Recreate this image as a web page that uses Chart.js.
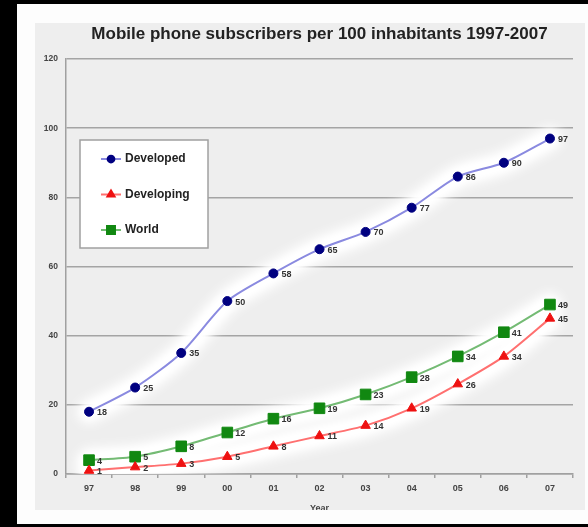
<!DOCTYPE html>
<html>
<head>
<meta charset="utf-8">
<script src="https://cdn.jsdelivr.net/npm/chart.js@4/dist/chart.umd.min.js"></script>
<style>
  html, body { margin: 0; padding: 0; background: #000; width: 588px; height: 527px; overflow: hidden; }
  #frame { position: absolute; left: 17px; top: 4px; width: 571px; height: 520px; background: #fdfdfd; }
  #wrap { position: absolute; left: 35px; top: 23px; width: 550px; height: 487px; background: #eeeeee; }
  canvas { display: block; }
</style>
</head>
<body>
<div id="frame"></div>
<div id="wrap"><canvas id="c" width="550" height="487"></canvas></div>
<script>
const chartTitle = 'Mobile phone subscribers per 100 inhabitants 1997-2007';
const categories = ['97', '98', '99', '00', '01', '02', '03', '04', '05', '06', '07'];
const developed = [18, 25, 35, 50, 58, 65, 70, 77, 86, 90, 97];
const developing = [1, 2, 3, 5, 8, 11, 14, 19, 26, 34, 45];
const world = [4, 5, 8, 12, 16, 19, 23, 28, 34, 41, 49];
const seriesNames = ['Developed', 'Developing', 'World'];
const xAxisTitle = 'Year';

const haloPlugin = {
  id: 'halo',
  beforeDatasetsDraw(chart) {
    const ctx = chart.ctx;
    ctx.save();
    ctx.beginPath();
    ctx.rect(chart.chartArea.left, chart.chartArea.top, chart.chartArea.right - chart.chartArea.left, chart.chartArea.bottom - chart.chartArea.top);
    ctx.clip();
    ctx.strokeStyle = '#ffffff';
    ctx.lineCap = 'round';
    ctx.lineJoin = 'round';
    [[24, 'blur(6px)'], [14, 'blur(3px)']].forEach(([w, f]) => {
      ctx.filter = f;
      ctx.lineWidth = w;
      chart.data.datasets.forEach((ds, i) => {
        const pts = chart.getDatasetMeta(i).data;
        ctx.beginPath();
        pts.forEach((p, j) => {
          if (j === 0) ctx.moveTo(p.x, p.y);
          else {
            const q = pts[j - 1];
            ctx.bezierCurveTo(q.cp2x, q.cp2y, p.cp1x, p.cp1y, p.x, p.y);
          }
        });
        ctx.stroke();
      });
    });
    ctx.restore();
  }
};

const labelPlugin = {
  id: 'valueLabels',
  afterDatasetsDraw(chart) {
    const ctx = chart.ctx;
    ctx.save();
    ctx.font = 'bold 9px "Liberation Sans", Arial, sans-serif';
    ctx.fillStyle = '#333';
    ctx.textAlign = 'left';
    ctx.textBaseline = 'middle';
    chart.data.datasets.forEach((ds, i) => {
      chart.getDatasetMeta(i).data.forEach((p, j) => {
        ctx.fillText(String(ds.data[j]), p.x + 8, p.y + 1);
      });
    });
    ctx.restore();
  }
};

const titleLegendPlugin = {
  id: 'titleLegend',
  afterDraw(chart) {
    const ctx = chart.ctx;
    const a = chart.chartArea;
    ctx.save();
    ctx.font = 'bold 17px "Liberation Sans", Arial, sans-serif';
    ctx.fillStyle = '#222';
    ctx.textAlign = 'center';
    ctx.textBaseline = 'middle';
    ctx.fillText(chartTitle, (a.left + a.right) / 2, 11);
    const bx = a.left + 14, by = a.top + 81, bw = 128, bh = 108;
    ctx.fillStyle = '#ffffff';
    ctx.fillRect(bx, by, bw, bh);
    ctx.strokeStyle = '#a0a0a0';
    ctx.lineWidth = 1.5;
    ctx.strokeRect(bx, by, bw, bh);
    ctx.font = 'bold 12px "Liberation Sans", Arial, sans-serif';
    ctx.textAlign = 'left';
    chart.data.datasets.forEach((ds, i) => {
      const y = by + 19 + i * 35.5;
      ctx.strokeStyle = ds.borderColor;
      ctx.lineWidth = 2;
      ctx.beginPath();
      ctx.moveTo(bx + 21, y);
      ctx.lineTo(bx + 41, y);
      ctx.stroke();
      ctx.fillStyle = ds.pointBackgroundColor;
      ctx.strokeStyle = ds.pointBorderColor;
      ctx.beginPath();
      Chart.helpers.drawPoint(ctx, {
        pointStyle: ds.pointStyle, radius: ds.pointRadius * 0.75, borderWidth: 1, rotation: 0
      }, bx + 31, y);
      ctx.fillStyle = '#222';
      ctx.fillText(ds.label, bx + 45, y);
    });
    ctx.restore();
  }
};

new Chart(document.getElementById('c'), {
  type: 'line',
  data: {
    labels: categories,
    datasets: [
      {
        label: seriesNames[0], data: developed,
        borderColor: '#8a8ae0', borderWidth: 2,
        pointStyle: 'circle', pointRadius: 4.5,
        pointBackgroundColor: '#000080', pointBorderColor: '#000080', pointBorderWidth: 1,
        tension: 0.25
      },
      {
        label: seriesNames[1], data: developing,
        borderColor: '#ff7070', borderWidth: 2,
        pointStyle: 'triangle', pointRadius: 5.5,
        pointBackgroundColor: '#ee1111', pointBorderColor: '#ee1111', pointBorderWidth: 1,
        tension: 0.25
      },
      {
        label: seriesNames[2], data: world,
        borderColor: '#74bb74', borderWidth: 2,
        pointStyle: 'rect', pointRadius: 7.5,
        pointBackgroundColor: '#118811', pointBorderColor: '#118811', pointBorderWidth: 1,
        tension: 0.25
      }
    ]
  },
  options: {
    responsive: false,
    animation: false,
    devicePixelRatio: 1,
    layout: { padding: { top: 36, right: 12, left: 0, bottom: 0 } },
    plugins: { legend: { display: false }, title: { display: false }, tooltip: { enabled: false } },
    scales: {
      x: {
        offset: true,
        grid: { offset: true, drawOnChartArea: false, drawTicks: true, tickLength: 4, color: '#a0a0a0', lineWidth: 1.5 },
        border: { color: '#a0a0a0', width: 1.5 },
        ticks: { color: '#444', font: { family: '"Liberation Sans", Arial, sans-serif', size: 9, weight: 'bold' }, padding: 5, maxRotation: 0 },
        title: { display: true, text: xAxisTitle, color: '#444', font: { family: '"Liberation Sans", Arial, sans-serif', size: 9, weight: 'bold' }, padding: { top: 0, bottom: -4 } },
        afterFit(s) { s.height = 36; }
      },
      y: {
        min: 0, max: 120,
        grid: { color: '#a4a4a4', lineWidth: 1.5, drawTicks: false },
        border: { color: '#a0a0a0', width: 1.5 },
        ticks: { stepSize: 20, color: '#444', font: { family: '"Liberation Sans", Arial, sans-serif', size: 8.5, weight: 'bold' }, padding: 8 },
        afterFit(s) { s.width = 31; }
      }
    }
  },
  plugins: [haloPlugin, labelPlugin, titleLegendPlugin]
});
</script>
</body>
</html>
